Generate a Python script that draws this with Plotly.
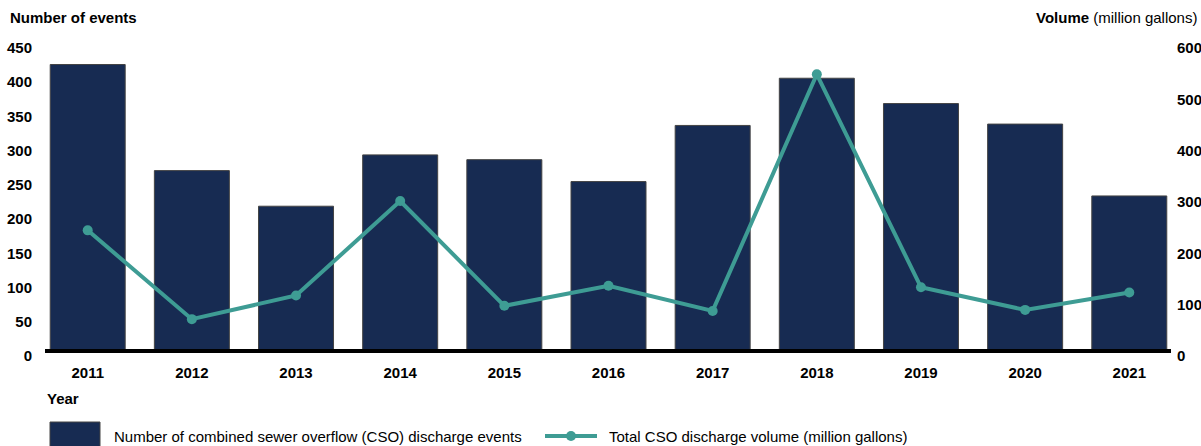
import plotly.graph_objects as go

years = ["2011", "2012", "2013", "2014", "2015", "2016", "2017", "2018", "2019", "2020", "2021"]
events = [420, 265, 213, 288, 281, 249, 331, 400, 363, 333, 228]
volume = [237, 64, 110, 294, 90, 129, 80, 541, 126, 82, 116]
left_ticks = [0, 50, 100, 150, 200, 250, 300, 350, 400, 450]
right_ticks = [0, 100, 200, 300, 400, 500, 600]

BAR = "#172B52"
TEAL = "#3E9C94"
FONT = "Liberation Sans, Arial, sans-serif"

W, H = 1201, 446
L, R, T, B = 45, 29, 44, 94
PW = W - L - R
PH = H - T - B


def px(x):
    return (x - L) / PW


def py(y):
    return (H - B - y) / PH


fig = go.Figure()
fig.add_trace(go.Bar(
    x=years, y=events, name="Number of combined sewer overflow (CSO) discharge events",
    marker=dict(color=BAR, line=dict(color="#444444", width=1)),
    yaxis="y",
))
fig.add_trace(go.Scatter(
    x=years, y=volume, name="Total CSO discharge volume (million gallons)",
    mode="lines+markers", line=dict(color=TEAL, width=4),
    marker=dict(color=TEAL, size=10), yaxis="y2",
))

fig.update_layout(
    template="none",
    width=W, height=H,
    margin=dict(l=L, r=R, t=T, b=B, pad=0, autoexpand=False),
    paper_bgcolor="white", plot_bgcolor="white",
    showlegend=False,
    bargap=0.28,
    font=dict(family=FONT, size=15, color="#000000"),
    xaxis=dict(
        type="category", range=[-0.41, 10.41], showgrid=False, zeroline=False,
        showline=False, ticks="", ticklabelstandoff=10, automargin=False,
        tickfont=dict(family=FONT, size=15, color="#000000", weight="bold"),
    ),
    yaxis=dict(
        range=[0, 450], tickvals=left_ticks, showgrid=False, zeroline=False,
        showline=False, ticks="", ticklabelstandoff=12, ticklabelshift=4,
        automargin=False,
        tickfont=dict(family=FONT, size=15, color="#000000", weight="bold"),
    ),
    yaxis2=dict(
        range=[0, 600], tickvals=right_ticks, overlaying="y", side="right",
        showgrid=False, zeroline=False, showline=False, ticks="",
        ticklabelstandoff=4, ticklabelshift=4, automargin=False,
        tickfont=dict(family=FONT, size=15, color="#000000", weight="bold"),
    ),
    shapes=[
        dict(type="line", xref="paper", yref="paper", x0=px(45), x1=px(1171),
             y0=py(351), y1=py(351), line=dict(color="black", width=4), layer="above"),
        dict(type="rect", xref="paper", yref="paper", x0=px(50), x1=px(100),
             y0=py(422), y1=py(447), fillcolor=BAR, line=dict(color="#444444", width=1)),
        dict(type="line", xref="paper", yref="paper", x0=px(545), x1=px(597),
             y0=py(436), y1=py(436), line=dict(color=TEAL, width=4)),
        dict(type="circle", xref="paper", yref="paper", x0=px(566), x1=px(576),
             y0=py(441), y1=py(431), fillcolor=TEAL, line=dict(color=TEAL, width=0)),
    ],
    annotations=[
        dict(text="<b>Number of events</b>", xref="paper", yref="paper", x=px(8), y=py(17),
             xanchor="left", yanchor="middle", showarrow=False, font=dict(size=15)),
        dict(text="<b>Volume</b> (million gallons)", xref="paper", yref="paper", x=px(1199),
             y=py(17), xanchor="right", yanchor="middle", showarrow=False, font=dict(size=15)),
        dict(text="<b>Year</b>", xref="paper", yref="paper", x=px(45), y=py(398),
             xanchor="left", yanchor="middle", showarrow=False, font=dict(size=15)),
        dict(text="Number of combined sewer overflow (CSO) discharge events", xref="paper",
             yref="paper", x=px(112), y=py(436), xanchor="left", yanchor="middle",
             showarrow=False, font=dict(size=15)),
        dict(text="Total CSO discharge volume (million gallons)", xref="paper",
             yref="paper", x=px(607), y=py(436), xanchor="left", yanchor="middle",
             showarrow=False, font=dict(size=15)),
    ],
)

fig.write_html(
    "out.html",
    config={"displayModeBar": False},
    post_script="document.body.style.margin='0';document.body.style.overflow='hidden';",
)
